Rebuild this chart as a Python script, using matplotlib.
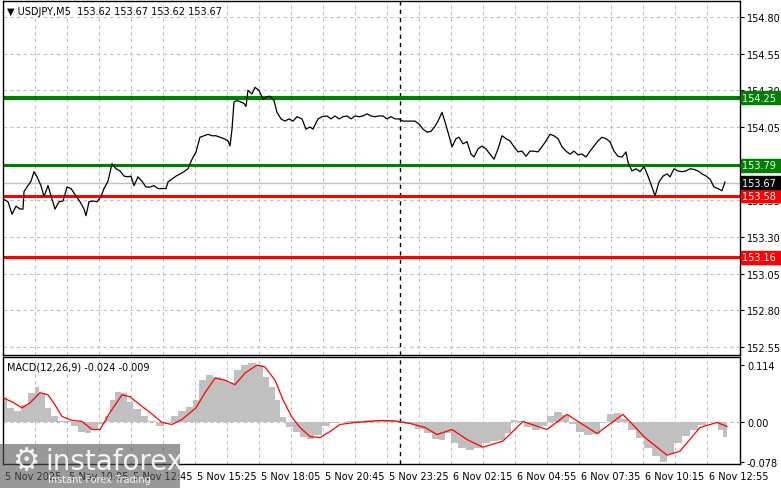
import matplotlib
matplotlib.use("Agg")
import matplotlib.pyplot as plt
from matplotlib.patches import Rectangle

price_pts = [(0,153.56),(2.5,153.54),(4.5,153.455),(6.5,153.51),(8.5,153.49),(10,153.49),(10.5,153.61),(12,153.64),(14,153.68),(15.5,153.745),(17,153.71),(19,153.65),(20.5,153.575),(22.5,153.65),(24,153.58),(26,153.49),(28,153.54),(30,153.545),(32,153.64),(34,153.63),(36.5,153.58),(38.5,153.54),(40.5,153.49),(41.5,153.445),(43,153.54),(45,153.545),(47,153.54),(49,153.575),(50.5,153.63),(52.5,153.68),(54.5,153.80),(56.5,153.765),(58.5,153.75),(60.5,153.715),(62.5,153.71),(64,153.715),(65.5,153.65),(67.5,153.71),(69.5,153.68),(71.5,153.64),(73.5,153.64),(75.5,153.65),(77.5,153.63),(80,153.63),(81.5,153.63),(82.5,153.675),(84.5,153.695),(86.5,153.715),(88.5,153.73),(90.5,153.745),(92.5,153.765),(94.5,153.83),(96.5,153.88),(98.5,153.98),(100.5,153.99),(102.5,154.00),(104.5,153.99),(106.5,153.99),(108.5,153.98),(110.5,153.97),(112.5,153.955),(113.5,153.92),(114.5,154.035),(115.5,154.22),(117,154.23),(119,154.22),(120.5,154.21),(121.5,154.19),(122.5,154.30),(124.5,154.275),(126,154.32),(128,154.30),(130,154.24),(132,154.255),(133.5,154.26),(135.5,154.23),(137,154.15),(139,154.105),(141,154.09),(143,154.105),(145,154.09),(147,154.12),(149.5,154.105),(151.5,154.035),(153.5,154.05),(155,154.035),(157.5,154.105),(159.5,154.12),(162,154.125),(164,154.105),(166,154.125),(168,154.105),(170,154.12),(172,154.125),(174,154.105),(176,154.125),(178,154.12),(180,154.125),(182,154.14),(184,154.125),(186,154.12),(188,154.125),(190,154.125),(192,154.105),(194,154.12),(196,154.105),(198,154.105),(200,154.09),(202,154.09),(204,154.09),(206,154.09),(208,154.07),(210,154.035),(212,154.015),(214,154.02),(216,154.055),(217.5,154.09),(219.5,154.15),(221,154.085),(223,153.99),(224.5,153.915),(226.5,153.97),(228,153.98),(230,153.935),(232,153.95),(234,153.865),(235.5,153.845),(237.5,153.90),(239.5,153.92),(241.5,153.90),(243.5,153.865),(245.5,153.83),(247.5,153.90),(249.5,153.99),(251.5,153.97),(253.5,153.955),(255.5,153.915),(257.5,153.88),(259.5,153.885),(261.5,153.85),(263.5,153.885),(265.5,153.885),(267.5,153.88),(269.5,153.915),(271.5,153.955),(273.5,154.00),(275.5,153.99),(277.5,153.97),(279.5,153.915),(281.5,153.885),(283.5,153.865),(285.5,153.885),(287.5,153.86),(289.5,153.865),(291.5,153.845),(293.5,153.885),(295.5,153.92),(297.5,153.955),(299.5,153.98),(301.5,153.97),(303.5,153.95),(305.5,153.885),(307.5,153.85),(309.5,153.845),(311.5,153.88),(312.5,153.81),(314.5,153.75),(316.5,153.765),(318.5,153.745),(320.5,153.78),(322.5,153.715),(324.5,153.64),(326,153.58),(328,153.675),(330,153.715),(332,153.73),(333.5,153.71),(335.5,153.765),(337.5,153.75),(339.5,153.745),(341.5,153.75),(343.5,153.765),(345.5,153.76),(347.5,153.75),(349.5,153.73),(351.5,153.715),(353.5,153.695),(355.5,153.64),(357.5,153.63),(359.5,153.615),(361,153.675)]
price_bar = [p[0] for p in price_pts]
price_close = [p[1] for p in price_pts]

hist_pts = [(0,0.051),(3.5,0.029),(7.5,0.022),(11,0.035),(14.5,0.059),(17,0.071),(19.5,0.059),(22.5,0.029),(26,0.012),(29.5,0.002),(32,0.002),(36,-0.008),(39.5,-0.018),(42.5,-0.020),(46,-0.014),(49.5,-0.004),(52.5,0.012),(55,0.045),(57.5,0.061),(60.5,0.059),(63.5,0.041),(67,0.026),(71,0.012),(74.5,0.002),(78.5,-0.008),(82.5,0.0),(86,0.012),(89.5,0.022),(93.5,0.031),(96.5,0.045),(100,0.084),(103.5,0.094),(107,0.090),(111,0.084),(114.5,0.079),(117,0.104),(121,0.114),(124.5,0.118),(128.5,0.114),(131.5,0.090),(134.5,0.071),(137.5,0.045),(140,0.010),(143.5,-0.010),(147,-0.018),(150.5,-0.028),(154,-0.033),(157.5,-0.024),(161.5,-0.008),(165.5,-0.002),(169.5,0.0),(173.5,0.002),(178.5,0.002),(183.5,0.004),(188.5,0.004),(193.5,0.004),(198.5,0.002),(203.5,-0.004),(208.5,-0.012),(212.5,-0.020),(216.5,-0.032),(219.5,-0.034),(222.5,-0.020),(225.5,-0.040),(229.5,-0.050),(233.5,-0.055),(237.5,-0.050),(241.5,-0.040),(245.5,-0.036),(249.5,-0.034),(252.5,-0.020),(255.5,0.004),(258.5,0.002),(262.5,-0.010),(266.5,-0.014),(270.5,-0.008),(273.5,0.012),(277.5,0.020),(281.5,0.015),(284.5,-0.004),(288.5,-0.018),(292.5,-0.024),(296.5,-0.022),(300.5,-0.002),(303.5,0.016),(307.5,0.018),(310.5,0.006),(314.5,-0.014),(318.5,-0.030),(322.5,-0.050),(326.5,-0.066),(330.5,-0.078),(333.5,-0.062),(337.5,-0.040),(341.5,-0.026),(345.5,-0.014),(349.5,-0.006),(353.5,0.0),(356.5,0.0),(358.5,-0.014),(362,-0.028)]
hist_bar = [p[0] for p in hist_pts]
hist_val = [p[1] for p in hist_pts]

sig_pts = [(0,0.049),(4.5,0.041),(9.5,0.029),(13.5,0.039),(18.5,0.059),(22.5,0.055),(26,0.035),(29.5,0.012),(34.5,0.004),(39.5,0.002),(44.5,-0.014),(48.5,-0.014),(53.5,0.020),(59.5,0.055),(63.5,0.051),(68.5,0.035),(73.5,0.020),(79.5,0.0),(84.5,-0.004),(89.5,0.006),(96.5,0.029),(101,0.059),(106,0.088),(111,0.084),(116,0.075),(121,0.098),(127,0.114),(131,0.110),(136,0.084),(140,0.045),(144.5,0.010),(148.5,-0.010),(153.5,-0.028),(158.5,-0.030),(163.5,-0.018),(168.5,-0.004),(176,0.0),(183.5,0.002),(188.5,0.004),(196,0.003),(203.5,-0.002),(211,-0.010),(217,-0.024),(224.5,-0.014),(232.5,-0.035),(240,-0.049),(250,-0.037),(260,0.002),(272,-0.014),(282,0.016),(297,-0.022),(310,0.016),(321,-0.030),(332,-0.065),(338.5,-0.057),(348.5,-0.010),(357,0.000),(362,-0.008)]
sig_bar = [p[0] for p in sig_pts]
sig_val = [p[1] for p in sig_pts]

levels = [154.25, 153.79, 153.58, 153.16]
level_colors = ["#008000", "#008000", "#ff0000", "#ff0000"]
level_widths = [3.0, 2.2, 2.2, 2.2]
current_price = 153.67
price_ticks = [152.55, 152.80, 153.05, 153.30, 153.55, 153.80, 154.05, 154.30, 154.55, 154.80]
macd_ticks = [0.114, 0.00, -0.078]
macd_tick_labels = ["0.114", "0.00", "-0.078"]
time_pos = [0, 32, 64, 96, 128, 160, 192, 224, 256, 288, 320, 352]
time_labels = ["5 Nov 2025", "5 Nov 10:05", "5 Nov 12:45", "5 Nov 15:25", "5 Nov 18:05", "5 Nov 20:45",
               "5 Nov 23:25", "6 Nov 02:15", "6 Nov 04:55", "6 Nov 07:35", "6 Nov 10:15", "6 Nov 12:55"]
day_sep = 198.5

W, H = 781, 489
fig = plt.figure(figsize=(W/100, H/100), dpi=100)
fig.patch.set_facecolor("white")
plt.rcParams['font.family'] = ['DejaVu Sans']

def fx(px): return px / W
def fy(py): return 1 - py / H

ax = fig.add_axes([fx(3), fy(356), fx(740) - fx(3), fy(2) - fy(356)])
ax2 = fig.add_axes([fx(3), fy(465), fx(740) - fx(3), fy(358) - fy(465)])
xmax = 368.5
for a in (ax, ax2):
    a.set_xlim(0, xmax)
    a.set_facecolor("white")
    for s in a.spines.values():
        s.set_color("black"); s.set_linewidth(1)
    for xv in range(16, int(xmax), 16):
        a.axvline(xv, color="#c0c0c0", ls=(0, (3, 3)), lw=0.8, zorder=0)
    a.axvline(day_sep, color="black", ls=(0, (3, 3)), lw=1.0, zorder=1)
    a.tick_params(axis='x', length=0, labelbottom=False)
    a.tick_params(axis='y', which='both', left=False, right=True, labelleft=False, labelright=True,
                  length=3, labelsize=7, pad=2)

ax.set_ylim(152.495, 154.909)
ax.set_yticks(price_ticks)
ax.set_yticklabels([f"{v:.2f}" for v in price_ticks])
for v in price_ticks:
    ax.axhline(v, color="#c0c0c0", ls=(0, (3, 3)), lw=0.8, zorder=0)
ax.axhline(current_price, color="#c0c0c0", lw=1, zorder=1)
for lv, c, w in zip(levels, level_colors, level_widths):
    ax.axhline(lv, color=c, lw=w, zorder=2)
ax.plot(price_bar, price_close, color="black", lw=0.9, zorder=3)

def tag(a, v, txt, bg, fg="white"):
    a.text(1.003, v, txt, transform=a.get_yaxis_transform(), fontsize=7, color=fg, va="center", ha="left",
           bbox=dict(boxstyle="square,pad=0.15", fc=bg, ec=bg), zorder=5, clip_on=False)
for lv, c in zip(levels, level_colors):
    tag(ax, lv, f"{lv:.2f} ", c)
tag(ax, current_price, f"{current_price:.2f} ", "black")

ax.text(0.006, 0.985, "\u25BC USDJPY,M5  153.62 153.67 153.62 153.67", transform=ax.transAxes,
        fontsize=7, va="top", ha="left", color="black")

ax2.set_ylim(-0.0825, 0.130)
ax2.set_yticks(macd_ticks)
ax2.set_yticklabels(macd_tick_labels)
ax2.axhline(0, color="#c0c0c0", ls=(0, (3, 3)), lw=0.8, zorder=0)
ax2.fill_between(hist_bar, 0, hist_val, step="mid", color="#c0c0c0", lw=0, zorder=2)
ax2.plot(sig_bar, sig_val, color="red", lw=0.9, zorder=3)
ax2.text(0.006, 0.96, "MACD(12,26,9) -0.024 -0.009", transform=ax2.transAxes, fontsize=7, va="top", ha="left")

for p, l in zip(time_pos, time_labels):
    xpix = 3 + p * 2
    fig.text(fx(xpix + 2), fy(477), l, fontsize=7, va="center", ha="left")

fig.patches.append(Rectangle((0, fy(489)), fx(180), fy(445) - fy(489), transform=fig.transFigure,
                             facecolor="#555555", alpha=0.6, edgecolor="none", zorder=10))
fig.text(fx(12), fy(462), "\u2699", fontsize=22, color="white", alpha=0.9, va="center", ha="left", zorder=11)
fig.text(fx(45), fy(462), "instaforex", fontsize=20, color="white", alpha=0.9, va="center", ha="left", zorder=11)
fig.text(fx(48), fy(480), "Instant Forex Trading", fontsize=7, color="white", alpha=0.9, va="center", ha="left", zorder=11)

fig.savefig("out.png", dpi=100)
